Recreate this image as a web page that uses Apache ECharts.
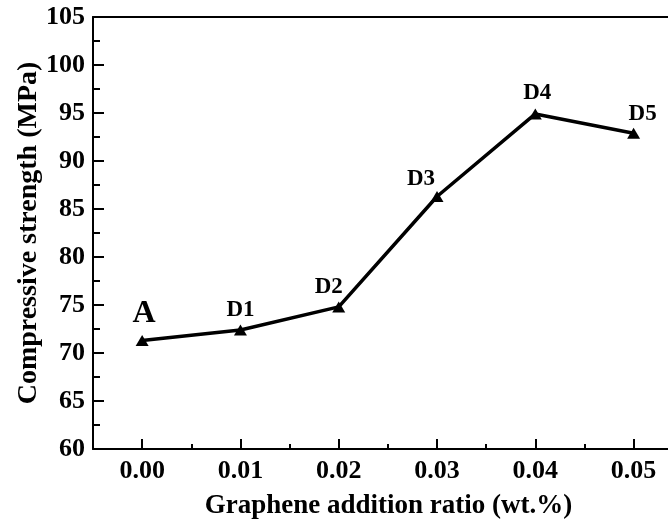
<!DOCTYPE html>
<html>
<head>
<meta charset="utf-8">
<script src="https://cdn.jsdelivr.net/npm/echarts@6/dist/echarts.min.js"></script>
<style>
  html, body { margin: 0; padding: 0; background: #fff; }
  #chart { width: 668px; height: 522px; }
</style>
</head>
<body>
<div id="chart"></div>
<script>
// graphene ratio (wt.%) and compressive strength (MPa)
const ratios = [0.00, 0.01, 0.02, 0.03, 0.04, 0.05]
const strength = [71.3, 72.4, 74.8, 86.3, 94.9, 92.9]
const pointNames = ['A', 'D1', 'D2', 'D3', 'D4', 'D5']
const xMajorTicks = [0.00, 0.01, 0.02, 0.03, 0.04, 0.05]
const xMinorTicks = [0.005, 0.015, 0.025, 0.035, 0.045]

// label placement around each marker (px)
const labelOffsets = [[2, -27], [0, -20], [-10, -20], [-16, -17], [2, -21], [9, -19]]

const font = 'Liberation Serif'
const chart = echarts.init(document.getElementById('chart'))

const points = ratios.map((x, i) => ({
  value: [x, strength[i]],
  name: pointNames[i],
  label: {
    offset: labelOffsets[i],
    fontSize: i === 0 ? 32 : 23
  }
}))

const xRange = { min: -0.005, max: 0.0535 }

chart.setOption({
  animation: false,
  grid: { left: 93, right: 0, top: 17, bottom: 73, outerBoundsMode: 'none' },
  xAxis: [
    {
      type: 'value',
      position: 'bottom',
      ...xRange,
      name: 'Graphene addition ratio (wt.%)',
      nameLocation: 'middle',
      nameGap: 44,
      nameTextStyle: { fontFamily: font, fontWeight: 'bold', fontSize: 27, color: '#000', padding: [0, 0, 0, 16] },
      axisLine: { onZero: false, lineStyle: { color: '#000', width: 2 } },
      axisTick: { inside: true, length: 10, lineStyle: { width: 2 }, customValues: xMajorTicks },
      axisLabel: {
        customValues: xMajorTicks,
        formatter: v => v.toFixed(2),
        margin: 9,
        fontFamily: font, fontWeight: 'bold', fontSize: 26, color: '#000'
      },
      splitLine: { show: false }
    },
    {
      type: 'value',
      position: 'bottom',
      ...xRange,
      axisLine: { show: false, onZero: false },
      axisTick: { inside: true, length: 5, lineStyle: { width: 2, color: '#000' }, customValues: xMinorTicks },
      axisLabel: { show: false },
      splitLine: { show: false }
    },
    {
      type: 'value',
      position: 'top',
      ...xRange,
      axisLine: { onZero: false, lineStyle: { color: '#000', width: 2 } },
      axisTick: { show: false },
      axisLabel: { show: false },
      splitLine: { show: false }
    }
  ],
  yAxis: {
    type: 'value',
    min: 60,
    max: 105,
    interval: 5,
    name: 'Compressive strength (MPa)',
    nameLocation: 'middle',
    nameGap: 50,
    nameMoveOverlap: false,
    nameTextStyle: { fontFamily: font, fontWeight: 'bold', fontSize: 28, color: '#000' },
    axisLine: { show: true, onZero: false, lineStyle: { color: '#000', width: 2 } },
    axisTick: { inside: true, length: 11, lineStyle: { width: 2 } },
    minorTick: { show: true, splitNumber: 2, length: 7, lineStyle: { color: '#000', width: 2 } },
    axisLabel: { margin: 8, fontFamily: font, fontWeight: 'bold', fontSize: 26, color: '#000' },
    splitLine: { show: false }
  },
  series: [{
    type: 'line',
    xAxisIndex: 0,
    data: points,
    symbol: 'triangle',
    symbolSize: [13, 11],
    lineStyle: { color: '#000', width: 3.5 },
    itemStyle: { color: '#000' },
    label: {
      show: true,
      position: 'inside',
      formatter: p => p.name,
      fontFamily: font,
      fontWeight: 'bold',
      color: '#000'
    }
  }]
})
</script>
</body>
</html>
